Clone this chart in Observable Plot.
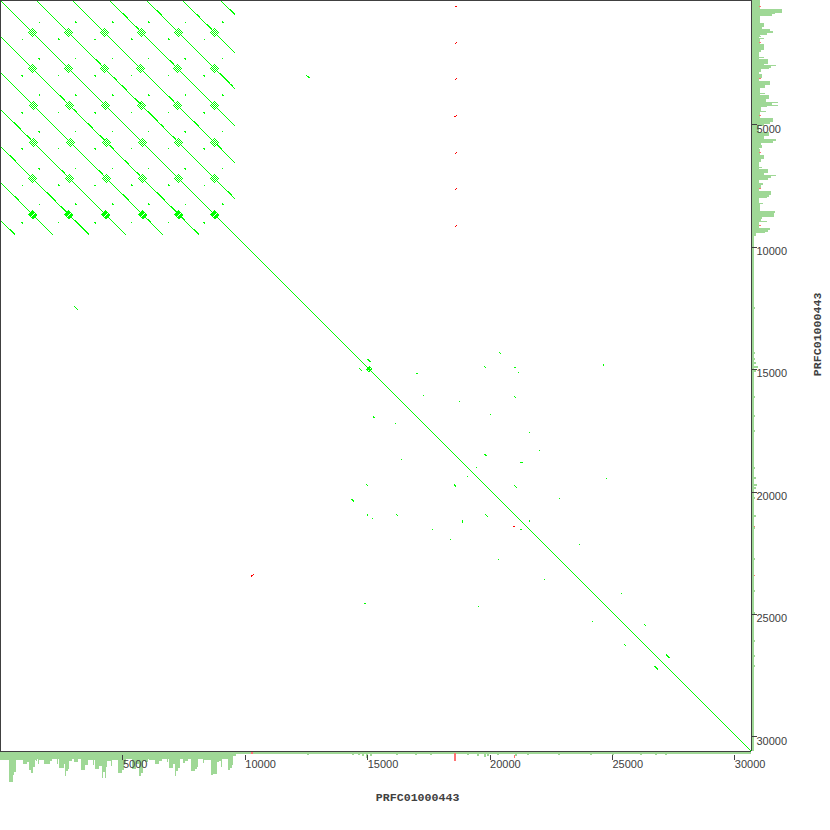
<!DOCTYPE html>
<html>
<head>
<meta charset="utf-8">
<script src="https://cdn.jsdelivr.net/npm/d3@7"></script>
<script src="https://cdn.jsdelivr.net/npm/@observablehq/plot@0.6"></script>
<style>
html,body{margin:0;padding:0;background:#fff}
svg{display:block;shape-rendering:crispEdges;overflow:visible}
</style>
</head>
<body>
<div id="chart"></div>
<script>
const seqName = "PRFC01000443";
const seqEnd = 30680;
const tickValues = [5000,10000,15000,20000,25000,30000];

// tandem repeat lags and the repeat array limit
const repeatLags = [1471,2941,4453,5965,7435,8988];
const repeatEnd = 9600;
const blobCentres = [1307,2778,4289,5801,7271,8754];
const blobOffsets = [-82,-41,41,82];
const blobHalf = 90;
const dotX = [1565,3051,4563,6033,7529,9056];
const dotY = [870,2357,3840,5339,6850,8305];

// denser stretches of the repeat lines: x, y, length
const denseRuns = [
[4970,504,231],[6332,381,204],[8007,545,136],[8415,953,231],[9328,340,204],[5515,1062,95],
[3881,2383,204],[6877,2424,190],[4630,3105,136],[5011,3472,190],[8987,2969,409],[9464,3404,109],
[2383,3881,204],[5474,3976,245],[6917,3908,190],[2928,4426,136],[5991,4494,409],[7966,4929,218],
[477,4970,272],[1021,5515,163],[3472,5011,190],[6536,5038,136],[4017,5515,204],[4426,5923,136],[7013,5515,136],[8851,5855,204],
[381,6332,231],[2451,6917,136],[3881,6917,163],[5011,6509,163],[5515,7013,136],[9328,7762,204],
[545,8007,136],[1797,7830,354],[2424,8415,231],[2928,8987,545],[4929,7925,245],[6332,7830,327],[6917,8415,231],[7762,9328,204],[340,9328,231],[5923,8919,136],[7149,8783,204]
];

// short scattered matches: x1, y1, x2, y2
const greenHits = [
[20357,14352,20452,14447],[14992,14638,15128,14774],[14638,15006,14774,15142],[19744,14924,19840,15019],
[20970,14965,21065,15006],[21133,15169,21188,15223],[24646,14869,24646,14937],[16966,15210,17062,15251],
[17252,16109,17307,16163],[18723,16354,18778,16408],[20970,16149,21065,16245],[15210,16966,15264,17048],
[20017,16912,20044,16939],[16109,17252,16163,17307],[21582,17620,21637,17675],[21991,18355,22045,18410],
[19744,18519,19880,18614],[16354,18723,16408,18764],[21215,18846,21351,18900],[19418,19050,19472,19104],
[19050,19418,19104,19472],[24728,19499,24783,19540],[14924,19744,15019,19840],[18519,19744,18614,19880],
[20970,19785,21106,19921],[16926,20030,16953,20044],[22808,20316,22863,20371],[14338,20357,14447,20466],
[14965,20970,15019,21065],[16149,20970,16245,21051],[19785,20970,19921,21106],[15169,21133,15223,21188],
[18846,21215,18900,21351],[21582,21215,21637,21310],[21215,21582,21324,21637],[17620,21582,17675,21637],
[18355,21991,18410,22045],[23625,22195,23680,22250],[20316,22808,20371,22863],[22195,23625,22250,23680],
[14869,24646,14951,24646],[19499,24728,19554,24783],[26307,25490,26377,25561],[25490,26307,25561,26377],
[27178,26716,27329,26867],[26716,27178,26867,27329],[25348,24204,25409,24265],[24163,25348,24224,25409],
[12500,3064,12664,3186],[3023,12500,3186,12664]
];
const blobTail = [[15047,14927,15187,15067],[14927,15047,15067,15187],[15100,14980,14980,15100],[15167,15047,15047,15167],[15006,14965,15129,15088],[14965,15006,15088,15129]];
const redHits = [
[20956,21501,21024,21460],[10233,23530,10335,23448],
[18547,274,18656,216],[18547,1797,18656,1687],[18547,3268,18656,3158],[18547,4767,18656,4669],
[18547,6279,18656,6181],[18547,7762,18656,7651],[18547,9273,18656,9163]
];

// coverage histogram along the sequence
const coverageStart = [
0,368,531,572,654,940,1103,1185,1266,1348,
1430,1471,1511,1552,1593,1797,2043,2124,2328,2369,
2410,2614,2655,2696,2778,2819,2941,3023,3186,3309,
3472,3595,3799,3840,3881,4044,4167,4208,4289,4330,
4371,4534,4575,4820,4984,5065,5147,5392,5556,5678,
5760,5842,5923,6046,6087,6332,6495,6618,6822,6863,
6904,7067,7149,7190,7271,7353,7476,7558,7680,7802,
7966,8048,8088,8293,8334,8619,8701,8865,8946,9028,
9069,9314,9396,9478,9518,9641];
const coverageDepth = [
8,30,23,20,8,12,10,18,21,15,
8,9,7,12,8,12,9,7,12,7,
16,12,24,19,17,9,7,10,7,18,
13,8,13,8,17,14,26,20,26,15,
9,14,8,21,18,12,7,17,12,24,
21,9,10,7,8,12,9,7,10,7,
16,12,24,19,16,7,11,9,7,19,
17,15,7,11,8,23,22,10,9,15,
7,18,16,13,4,2];
const blipStart = [12541,14379,14624,14788,14951,15115,16177,16953,17566,19077,19485,19771,19894,20303,21038,21528,22794,24102,25000,26144,26757,27165];
const blipDepth = [3,3,3,4,6,4,3,3,3,3,4,5,4,3,4,3,3,3,3,3,3,3];
const redRight = [[225,7,9],[1716,7,9],[3186,7,9],[4698,7,9],[6209,7,9],[7680,7,9],[9191,7,9],[21480,2,3],[23490,2,3]];
const redBottom = [[18560,1,9],[10270,0,2],[20980,3,6]];

const depthUnit = 40.85;
const green = "#00ff00", red = "#ff0000", barGreen = "#9fd896", barRed = "#ff7272", ink = "#404040";
const mono = "Liberation Mono", tickFont = "Liberation Sans";

const hits = a => a.map(([x1,y1,x2,y2]) => ({x1,y1,x2,y2}));
const repeats = [[0,0,seqEnd,seqEnd]];
for (const lag of repeatLags) {
  repeats.push([lag,0,repeatEnd,repeatEnd-lag]);
  repeats.push([0,lag,repeatEnd-lag,repeatEnd]);
}
const nearestLag = d => [0,...repeatLags].reduce((b,l) => Math.abs(l-Math.abs(d)) < Math.abs(b-Math.abs(d)) ? l : b);
const blobs = [];
for (const cx of blobCentres) for (const cy of blobCentres) {
  const lag = cx - cy;
  const bx = cy + Math.sign(lag)*nearestLag(lag);
  for (const o of blobOffsets) {
    blobs.push([bx+o-blobHalf,cy-o-blobHalf,bx+o+blobHalf,cy-o+blobHalf]);
    blobs.push([bx+o+blobHalf,cy+o-blobHalf,bx+o-blobHalf,cy+o+blobHalf]);
  }
}
const dots = [];
for (const x of dotX) for (const y of dotY) {
  dots.push([x,y,x+50,y+50]);
  dots.push([y,x,y+50,x+50]);
}
// a dense run doubles its repeat line one pixel across
const runs = denseRuns.map(([x,y,n]) => {
  const lag = x - y;
  const sx = y + Math.sign(lag)*nearestLag(lag);
  return [sx+41,y,sx+n+41,y+n];
});
const cover = coverageStart.map((s,i) => ({s, e: i+1<coverageStart.length ? coverageStart[i+1] : seqEnd, d: coverageDepth[i]}))
  .concat(blipStart.map((s,i) => ({s, e: s+82, d: blipDepth[i]})));
const redR = redRight.map(([s,a,b]) => ({s, e: s+50, a, b}));
const redB = redBottom.map(([s,a,b]) => ({s, e: s+70, a, b}));
const link = (a,stroke,strokeWidth=1) => Plot.link(hits(a),{x1:"x1",y1:"y1",x2:"x2",y2:"y2",stroke,strokeWidth});

const chart = Plot.plot({
  width: 830, height: 830,
  marginTop: 0, marginLeft: 0, marginRight: 79, marginBottom: 79,
  x: {domain:[0,seqEnd], range:[0,751]},
  y: {domain:[0,seqEnd], range:[0,751]},
  style: {background:"#fff", overflow:"visible"},
  marks: [
    // histograms
    Plot.rect(cover,{x1:"s",x2:"e",y1:()=>seqEnd+depthUnit,y2:d=>seqEnd+depthUnit+d.d*depthUnit,fill:barGreen}),
    Plot.rect(cover,{y1:"s",y2:"e",x1:()=>seqEnd+depthUnit,x2:d=>seqEnd+depthUnit+d.d*depthUnit,fill:barGreen}),
    Plot.rect(redB,{x1:"s",x2:"e",y1:d=>seqEnd+depthUnit+d.a*depthUnit,y2:d=>seqEnd+depthUnit+d.b*depthUnit,fill:barRed}),
    Plot.rect(redR,{y1:"s",y2:"e",x1:d=>seqEnd+depthUnit+d.a*depthUnit,x2:d=>seqEnd+depthUnit+d.b*depthUnit,fill:barRed}),
    // dot plot
    link(repeats,green),
    link(runs,green),
    link(blobs,green),
    link(dots,green),
    link(greenHits,green),
    link(blobTail,green),
    link(redHits,red),
    // frame
    Plot.ruleX([0,seqEnd],{stroke:ink,strokeWidth:1}),
    Plot.ruleY([0,seqEnd],{stroke:ink,strokeWidth:1}),
    // axes
    Plot.axisX(tickValues,{anchor:"bottom",tickSize:5,tickPadding:0,tickFormat:"d",textAnchor:"start",fontFamily:tickFont,fontSize:11,color:ink,label:null,dy:4}),
    Plot.axisY(tickValues,{anchor:"right",tickSize:5,tickPadding:0,tickFormat:"d",textAnchor:"start",lineAnchor:"top",fontFamily:tickFont,fontSize:11,color:ink,label:null,dy:2}),
    Plot.text([seqName],{x:()=>17040,frameAnchor:"bottom",dy:41,text:d=>d,fontFamily:mono,fontWeight:"bold",fontSize:11.6,fill:ink,lineAnchor:"top"}),
    Plot.text([seqName],{y:()=>13640,frameAnchor:"right",dx:66,text:d=>d,rotate:-90,textAnchor:"middle",fontFamily:mono,fontWeight:"bold",fontSize:11.6,fill:ink})
  ]
});
document.getElementById("chart").appendChild(chart);
</script>
</body>
</html>
